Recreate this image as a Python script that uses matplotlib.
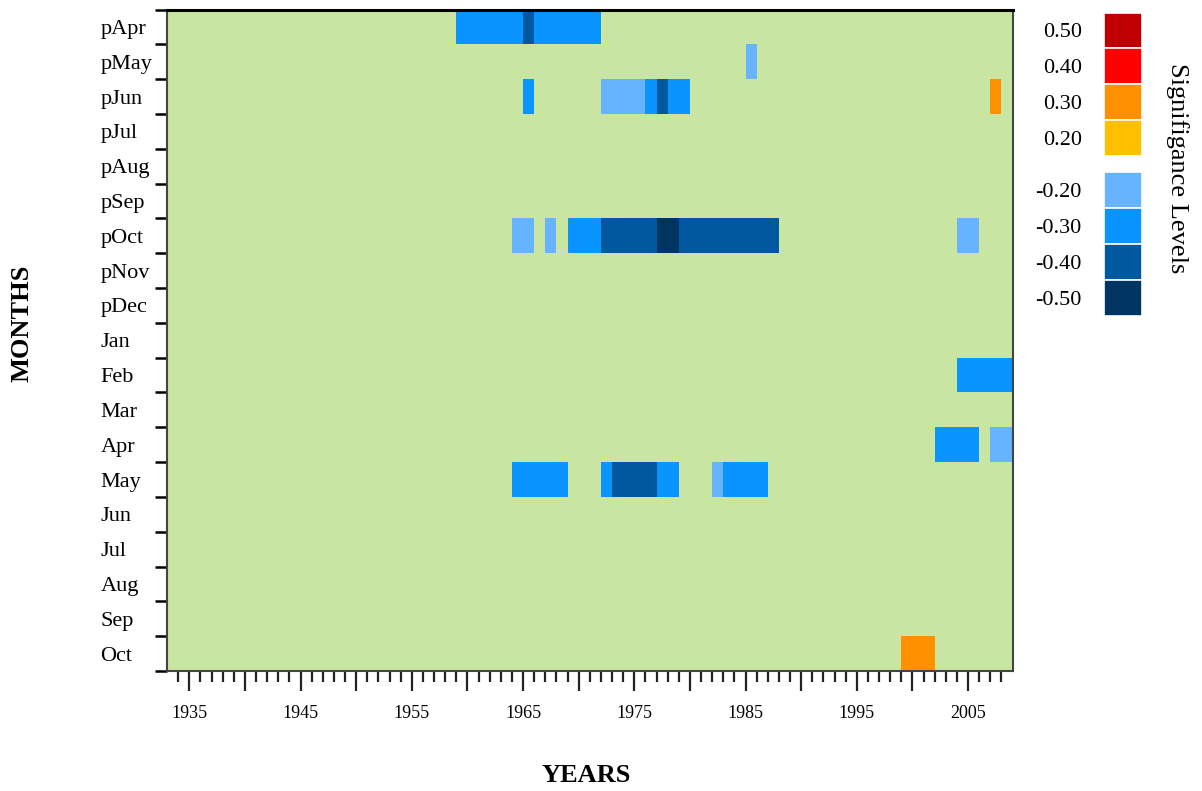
import numpy as np
import matplotlib
matplotlib.use('Agg')
import matplotlib.pyplot as plt
from matplotlib.colors import ListedColormap, BoundaryNorm

plt.rcParams['font.family'] = ['Liberation Serif', 'DejaVu Serif']

# rows of the chart, top to bottom
months = ['pApr', 'pMay', 'pJun', 'pJul', 'pAug', 'pSep', 'pOct', 'pNov', 'pDec',
          'Jan', 'Feb', 'Mar', 'Apr', 'May', 'Jun', 'Jul', 'Aug', 'Sep', 'Oct']
first_year = 1933
last_year = 2008

# significant runs per month: (start year, end year, level)
runs_pApr = [(1959, 1964, -0.3), (1965, 1965, -0.4), (1966, 1971, -0.3)]
runs_pMay = [(1985, 1985, -0.2)]
runs_pJun = [(1965, 1965, -0.3), (1972, 1975, -0.2), (1976, 1976, -0.3),
             (1977, 1977, -0.4), (1978, 1979, -0.3), (2007, 2007, 0.3)]
runs_pOct = [(1964, 1965, -0.2), (1967, 1967, -0.2), (1969, 1971, -0.3),
             (1972, 1976, -0.4), (1977, 1978, -0.5), (1979, 1987, -0.4),
             (2004, 2005, -0.2)]
runs_Feb = [(2004, 2008, -0.3)]
runs_Apr = [(2002, 2005, -0.3), (2007, 2008, -0.2)]
runs_May = [(1964, 1968, -0.3), (1972, 1972, -0.3), (1973, 1976, -0.4),
            (1977, 1978, -0.3), (1982, 1982, -0.2), (1983, 1986, -0.3)]
runs_Oct = [(1999, 2001, 0.3)]

runs = {'pApr': runs_pApr, 'pMay': runs_pMay, 'pJun': runs_pJun, 'pOct': runs_pOct,
        'Feb': runs_Feb, 'Apr': runs_Apr, 'May': runs_May, 'Oct': runs_Oct}

# legend levels and colours
levels = [0.5, 0.4, 0.3, 0.2, -0.2, -0.3, -0.4, -0.5]
level_labels = ['0.50', '0.40', '0.30', '0.20', '-0.20', '-0.30', '-0.40', '-0.50']
level_colors = ['#C00000', '#FF0000', '#FF9000', '#FFC000',
                '#66B3FF', '#0A94FF', '#00589E', '#003562']
bg_color = '#C8E6A1'

years = np.arange(first_year, last_year + 1)
Z = np.zeros((len(months), len(years)))
for i, m in enumerate(months):
    for a, b, v in runs.get(m, []):
        Z[i, (years >= a) & (years <= b)] = v

# colormap ascending: -0.5 .. -0.2, background, 0.2 .. 0.5
cmap = ListedColormap(level_colors[::-1][:4] + [bg_color] + level_colors[::-1][4:])
norm = BoundaryNorm([-0.55, -0.45, -0.35, -0.25, -0.1, 0.1, 0.25, 0.35, 0.45, 0.55], cmap.N)

fig = plt.figure(figsize=(12.02, 7.91), dpi=100)
ax = fig.add_axes([167/1202, 1 - 671/791, (1012.5 - 167)/1202, (671 - 9.5)/791])

xe = np.arange(first_year, last_year + 2)
ye = np.arange(len(months) + 1)
ax.pcolormesh(xe, ye, Z, cmap=cmap, norm=norm, shading='flat')
ax.set_xlim(first_year, last_year + 1)
ax.set_ylim(len(months), 0)

# y ticks at row boundaries, labels at row centres
ax.set_yticks(ye)
ax.set_yticklabels([])
ax.set_yticks(np.arange(len(months)) + 0.5, minor=True)
ax.set_yticklabels(months, minor=True, fontsize=16, ha='left')
ax.tick_params(axis='y', which='major', direction='out', length=8.6, width=1.8, color='black')
ax.tick_params(axis='y', which='minor', length=0, pad=48)

# x ticks: every year, long every 5, labels every 10
ax.set_xticks(np.arange(1935, 2006, 5))
ax.set_xticklabels([str(y) if (y - 1935) % 10 == 0 else '' for y in range(1935, 2006, 5)],
                   fontsize=13)
ax.set_xticks(np.arange(1934, 2009), minor=True)
ax.tick_params(axis='x', which='major', direction='out', length=14.5, width=1.6,
               color='#222222', pad=10)
ax.tick_params(axis='x', which='minor', direction='out', length=8, width=1.6, color='#222222')

for s in ['left', 'bottom', 'right']:
    ax.spines[s].set_color('#444444')
    ax.spines[s].set_linewidth(1.5)
ax.spines['top'].set_color('black')
ax.spines['top'].set_linewidth(2.2)

fig.text(21.7/1202, 1 - 323/791, 'MONTHS', rotation=90, ha='center', va='center',
         fontsize=19, fontweight='bold')
fig.text(585.7/1202, 1 - 775.7/791, 'YEARS', ha='center', va='center',
         fontsize=19, fontweight='bold')

# legend boxes
lax = fig.add_axes([1104/1202, 1 - 316/791, 38/1202, (316 - 12.5)/791])
pos = [0, 1, 2, 3, 4.45, 5.45, 6.45, 7.45]
lax.barh(pos, [1] * len(levels), height=1.0, color=level_colors, edgecolor='white', linewidth=1.2)
lax.set_xlim(0, 1)
lax.set_ylim(7.95, -0.5)
lax.set_yticks(pos)
lax.set_yticklabels(level_labels, fontsize=16)
lax.tick_params(axis='y', length=0, pad=16)
lax.set_xticks([])
for s in lax.spines.values():
    s.set_visible(False)

fig.text(1177/1202, 1 - 168/791, 'Signifigance Levels', rotation=270, ha='center',
         va='center', fontsize=19)

fig.savefig('out.png', dpi=100)
